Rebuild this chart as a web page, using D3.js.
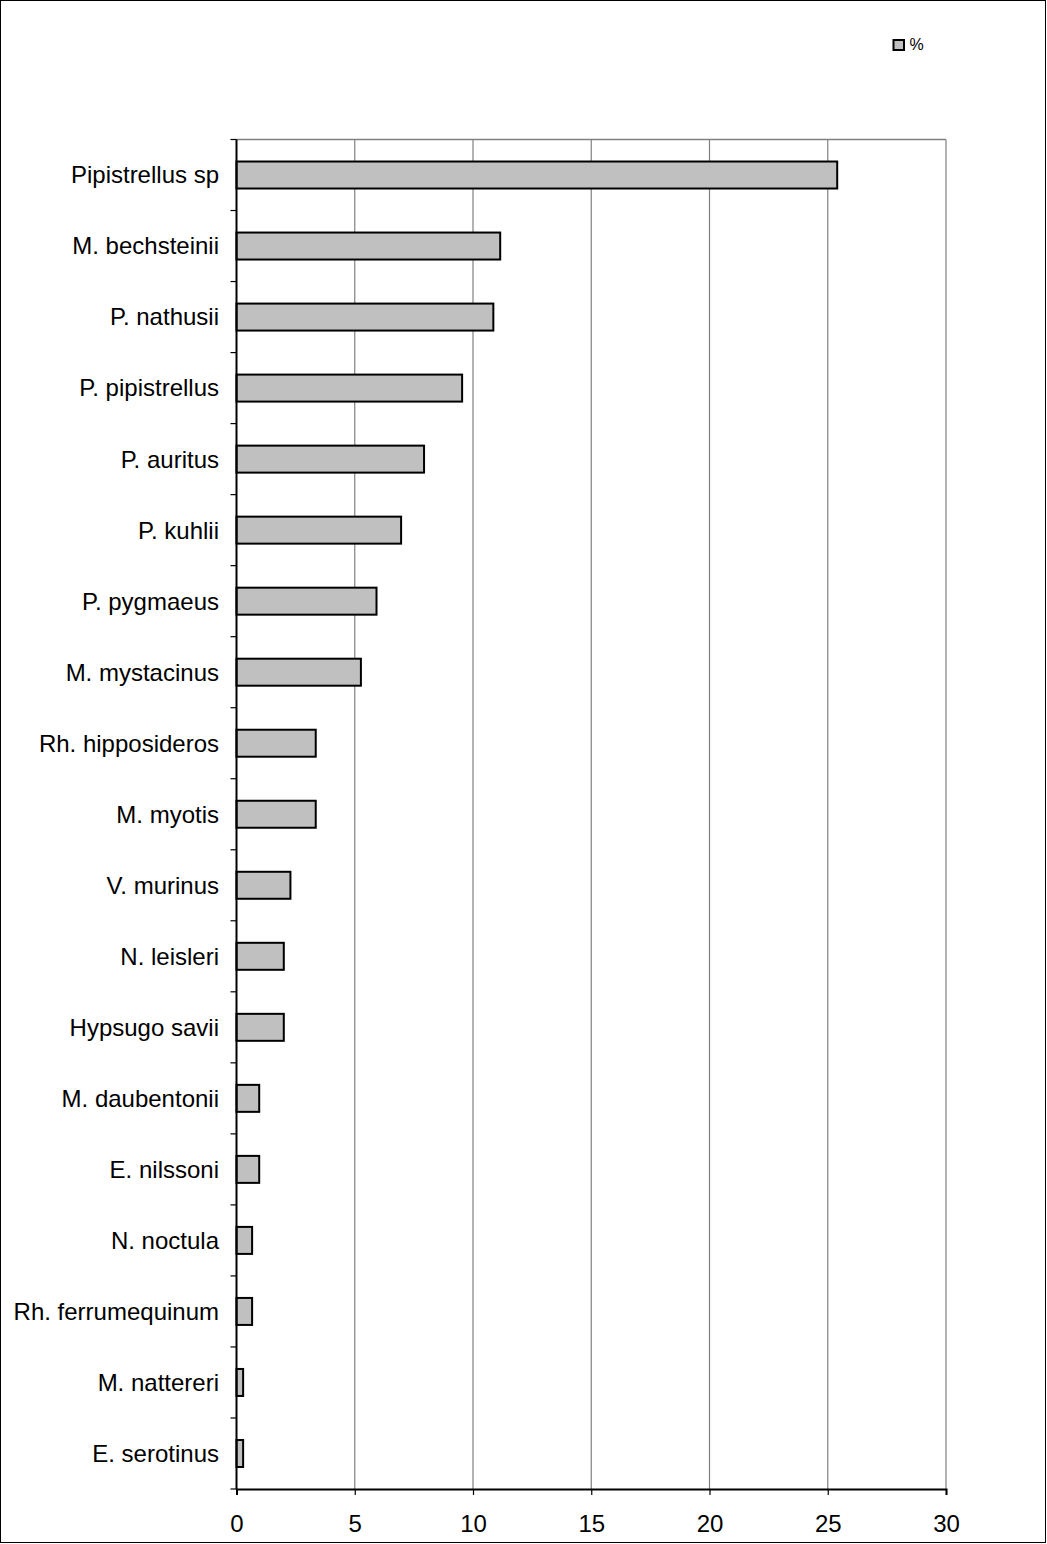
<!DOCTYPE html>
<html><head><meta charset="utf-8">
<script src="https://cdn.jsdelivr.net/npm/d3@7"></script>
<style>html,body{margin:0;padding:0;background:#fff;}</style>
</head><body>
<svg id="chart" width="1047" height="1544"></svg>
<script>
const categories = ["Pipistrellus sp","M. bechsteinii","P. nathusii","P. pipistrellus","P. auritus","P. kuhlii","P. pygmaeus","M. mystacinus","Rh. hipposideros","M. myotis","V. murinus","N. leisleri","Hypsugo savii","M. daubentonii","E. nilssoni","N. noctula","Rh. ferrumequinum","M. nattereri","E. serotinus"];
const values = [25.4,11.15,10.86,9.54,7.93,6.96,5.92,5.26,3.35,3.35,2.28,2.0,2.0,0.96,0.96,0.66,0.66,0.28,0.28];
const xTicks = [0,5,10,15,20,25,30];
const seriesName = "%";

(function(){
const svg = d3.select("#chart");
const W = 1047, H = 1544;
const pLeft = 236.5, pRight = 946, pTop = 139.5, pBottom = 1489;
const font = "'Liberation Sans', Arial, sans-serif";

svg.append("rect").attr("x",0.5).attr("y",0.5).attr("width",W-2).attr("height",H-2)
  .attr("fill","#fff").attr("stroke","#000").attr("stroke-width",1);

const x = d3.scaleLinear().domain([0,30]).range([pLeft,pRight]);
const y = d3.scaleBand().domain(categories).range([pTop,pBottom]).paddingInner(0.62).paddingOuter(0.31);
const yb = d3.scaleBand().domain(categories).range([pTop,pBottom]);

// gridlines
svg.append("g").selectAll("line").data(xTicks.slice(1)).join("line")
  .attr("x1",d=>x(d)).attr("x2",d=>x(d)).attr("y1",pTop).attr("y2",pBottom)
  .attr("stroke","#808080").attr("stroke-width",1.2);
// top border
svg.append("line").attr("x1",pLeft).attr("x2",pRight).attr("y1",pTop).attr("y2",pTop)
  .attr("stroke","#808080").attr("stroke-width",1.5);

// bars
svg.append("g").selectAll("rect").data(categories).join("rect")
  .attr("x",x(0)).attr("y",(d)=>y(d))
  .attr("width",(d,i)=>x(values[i])-x(0)).attr("height",y.bandwidth())
  .attr("fill","#c0c0c0").attr("stroke","#000").attr("stroke-width",2);

// x axis
const xAxis = d3.axisBottom(x).tickValues(xTicks).tickSize(6).tickPadding(20).tickFormat(d3.format("d"));
const gx = svg.append("g").attr("transform",`translate(0,${pBottom})`).call(xAxis);
gx.select(".domain").attr("stroke","#000").attr("stroke-width",2);
gx.selectAll(".tick line").attr("stroke","#000").attr("stroke-width",1.2);
gx.selectAll("text").attr("font-family",font).attr("font-size",24).attr("fill","#000");

// y axis: ticks at band boundaries
const bounds = categories.map(c=>yb(c)).concat([pBottom]);
svg.append("g").selectAll("line").data(bounds).join("line")
  .attr("x1",pLeft-6).attr("x2",pLeft).attr("y1",d=>d).attr("y2",d=>d)
  .attr("stroke","#000").attr("stroke-width",1.2);
svg.append("line").attr("x1",pLeft).attr("x2",pLeft).attr("y1",pTop).attr("y2",pBottom)
  .attr("stroke","#000").attr("stroke-width",2);
svg.append("g").selectAll("text").data(categories).join("text")
  .attr("x",219).attr("y",d=>yb(d)+yb.bandwidth()/2)
  .attr("dy","0.35em").attr("text-anchor","end")
  .attr("font-family",font).attr("font-size",24).attr("fill","#000")
  .text(d=>d);

// legend
svg.append("rect").attr("x",893.5).attr("y",40).attr("width",10.5).attr("height",10)
  .attr("fill","#c0c0c0").attr("stroke","#000").attr("stroke-width",2);
svg.append("text").attr("x",909.5).attr("y",44.5).attr("dy","0.35em")
  .attr("font-family",font).attr("font-size",16).attr("fill","#000").text(seriesName);
})();
</script>
</body></html>
